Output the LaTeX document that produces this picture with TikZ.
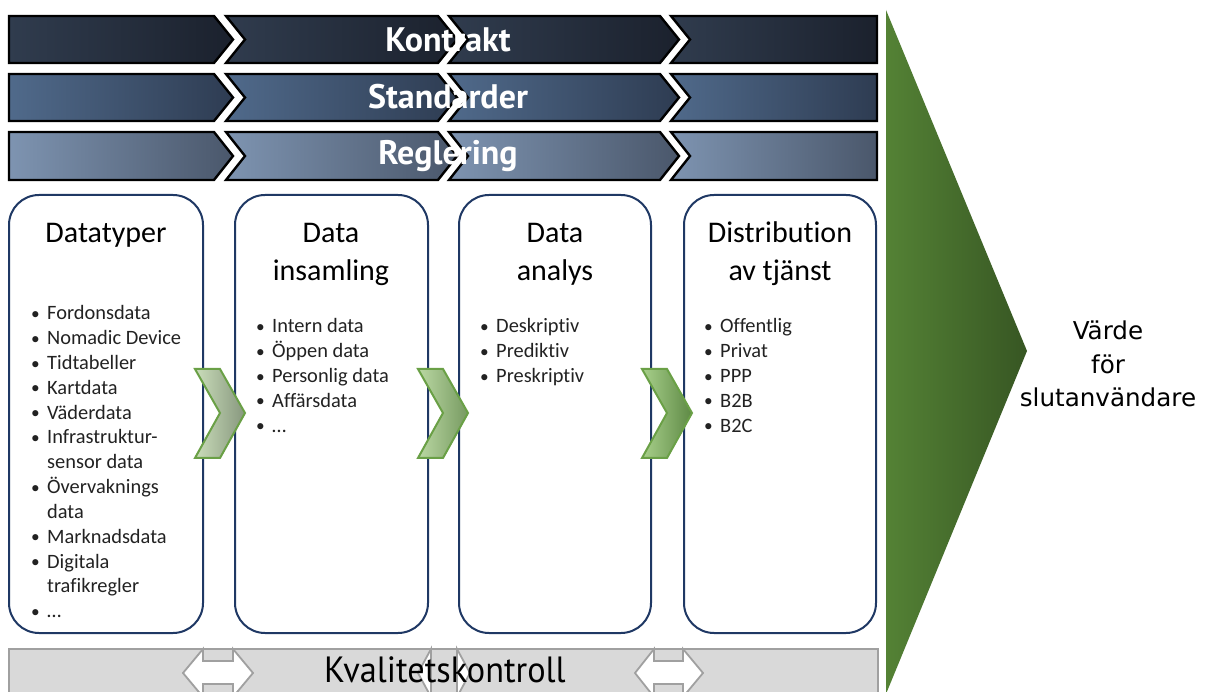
\documentclass[tikz,border=0pt]{standalone}
\usepackage{fontspec}
\setmainfont{Carlito}[Ligatures=NoCommon]
\newfontfamily\barfont{PT Sans}
\newfontfamily\condfont[FakeStretch=0.94]{PT Sans}
\newfontfamily\valfont{DejaVu Sans}
\definecolor{navy}{HTML}{1F3864}
\definecolor{txt}{HTML}{222222}
\definecolor{rowAl}{HTML}{303C4E}
\definecolor{rowAr}{HTML}{1B212D}
\definecolor{rowBl}{HTML}{506A8B}
\definecolor{rowBr}{HTML}{2E3C52}
\definecolor{rowCl}{HTML}{7E94B1}
\definecolor{rowCr}{HTML}{4A576B}
\definecolor{barfill}{HTML}{D9D9D9}
\definecolor{barline}{HTML}{A0A0A0}
\definecolor{chline}{HTML}{6AA046}
\definecolor{chAl}{HTML}{CADDBA}
\definecolor{chAr}{HTML}{87977E}
\definecolor{chBl}{HTML}{BAD8A3}
\definecolor{chBr}{HTML}{779A61}
\definecolor{chCl}{HTML}{A8D08B}
\definecolor{chCr}{HTML}{5E8945}
\definecolor{trL}{HTML}{548235}
\definecolor{trR}{HTML}{375623}
\tikzset{
  segment/.style={draw=black, line width=2.4pt, line join=miter},
  card/.style={draw=navy, line width=2pt, rounded corners=30pt, fill=white},
  chevron/.style={draw=chline, line width=2pt, line join=miter},
  dblarrow/.style={draw=barline, fill=white, line width=1.8pt, line join=miter},
  bartext/.style={text=white, font=\barfont\bfseries\fontsize{34}{40}\selectfont, inner sep=0pt, anchor=base},
  boxtitle/.style={font=\fontsize{30}{38}\selectfont, text=black, inner sep=0pt, anchor=base},
  listline/.style={font=\fontsize{20.4}{24.8}\selectfont, text=txt, inner sep=0pt, anchor=base west},
  valtext/.style={font=\valfont\fontsize{24.6}{33.5}\selectfont, text=black, inner sep=0pt, anchor=base},
  qtext/.style={font=\condfont\fontsize{36.5}{40}\selectfont, text=black, inner sep=0pt, anchor=base}
}
\newcommand\bl[1]{\makebox[16pt][l]{\raisebox{0.5pt}{\scalebox{0.85}{•}}}#1}
\newcommand\cl[1]{\hspace*{16pt}#1}
\newcommand\barrow[4]{%
  \pgfmathsetmacro\barmid{(#1+#2)/2}
  \shadedraw[segment, left color=#3, right color=#4] (9,#1) -- (214,#1) -- (233,\barmid) -- (214,#2) -- (9,#2) -- cycle;
  \shadedraw[segment, left color=#3, right color=#4] (226,#1) -- (438,#1) -- (457,\barmid) -- (438,#2) -- (226,#2) -- (245,\barmid) -- cycle;
  \shadedraw[segment, left color=#3, right color=#4] (449,#1) -- (660,#1) -- (679,\barmid) -- (660,#2) -- (449,#2) -- (468,\barmid) -- cycle;
  \shadedraw[segment, left color=#3, right color=#4] (671,#1) -- (877,#1) -- (877,#2) -- (671,#2) -- (690,\barmid) -- cycle;
}
\newcommand\greenchev[3]{%
  \shadedraw[chevron, left color=#2, right color=#3] (#1,369) -- (#1+25,369) -- (#1+50,413) -- (#1+25,458) -- (#1,458) -- (#1+25,413) -- cycle;
}
\begin{document}
\begin{tikzpicture}[x=1pt,y=-1pt]
\useasboundingbox (0,0) rectangle (1208,692);
% top bars
\barrow{16}{63}{rowAl}{rowAr}
\barrow{74}{121}{rowBl}{rowBr}
\barrow{132}{180}{rowCl}{rowCr}
\node[bartext] (kontrakt) at (448,52) {Kontrakt};
\node[bartext] (standarder) at (448,109) {Standarder};
\node[bartext] (reglering) at (448,165) {Reglering};
% value triangle
\shade[left color=trL, right color=trR] (886,10) -- (1027,351) -- (886,694) -- cycle;
\node[valtext] (v1) at (1108,340) {Värde};
\node[valtext] (v2) at (1108,373.5) {för};
\node[valtext] (v3) at (1108,407) {slutanvändare};
% cards
\draw[card] (9,195) rectangle (203,633);
\draw[card] (235,195) rectangle (428,633);
\draw[card] (459,195) rectangle (651,633);
\draw[card] (684,195) rectangle (876,633);
\node[boxtitle] (t1) at (106,243) {Datatyper};
\node[boxtitle] (t2a) at (331,243) {Data};
\node[boxtitle] (t2b) at (331,281) {insamling};
\node[boxtitle] (t3a) at (555,243) {Data};
\node[boxtitle] (t3b) at (555,281) {analys};
\node[boxtitle] (t4a) at (780,243) {Distribution};
\node[boxtitle] (t4b) at (780,281) {av tjänst};
\foreach \t [count=\i] in {\bl{Fordonsdata},\bl{Nomadic Device},\bl{Tidtabeller},\bl{Kartdata},\bl{Väderdata},\bl{Infrastruktur-},\cl{sensor data},\bl{Övervaknings},\cl{data},\bl{Marknadsdata},\bl{Digitala},\cl{trafikregler},\bl{…}}
  \node[listline] (a\i) at (31,{320+(\i-1)*24.8}) {\t};
\foreach \t [count=\i] in {\bl{Intern data},\bl{Öppen data},\bl{Personlig data},\bl{Affärsdata},\bl{…}}
  \node[listline] (b\i) at (256,{333+(\i-1)*24.8}) {\t};
\foreach \t [count=\i] in {\bl{Deskriptiv},\bl{Prediktiv},\bl{Preskriptiv}}
  \node[listline] (c\i) at (480,{333+(\i-1)*24.8}) {\t};
\foreach \t [count=\i] in {\bl{Offentlig},\bl{Privat},\bl{PPP},\bl{B2B},\bl{B2C}}
  \node[listline] (d\i) at (704,{333+(\i-1)*24.8}) {\t};
% green chevrons
\greenchev{195}{chAl}{chAr}
\greenchev{418}{chBl}{chBr}
\greenchev{642}{chCl}{chCr}
% quality bar
\draw[fill=barfill, draw=barline, line width=2pt] (9,649) rectangle (878,704);
\draw[dblarrow] (183,673) -- (203,649) -- (203,661) -- (233,661) -- (233,649) -- (253,673) -- (233,697) -- (233,684) -- (203,684) -- (203,697) -- cycle;
\draw[dblarrow] (635,673) -- (654,649) -- (654,661) -- (683,661) -- (683,649) -- (703,673) -- (683,697) -- (683,684) -- (654,684) -- (654,697) -- cycle;
\draw[dblarrow] (418,673) -- (431,649) -- (431,697) -- cycle;
\draw[dblarrow] (457,649) -- (470,673) -- (457,697) -- cycle;
\node[qtext] (kval) at (445,682) {Kvalitetskontroll};
\end{tikzpicture}
\end{document}
